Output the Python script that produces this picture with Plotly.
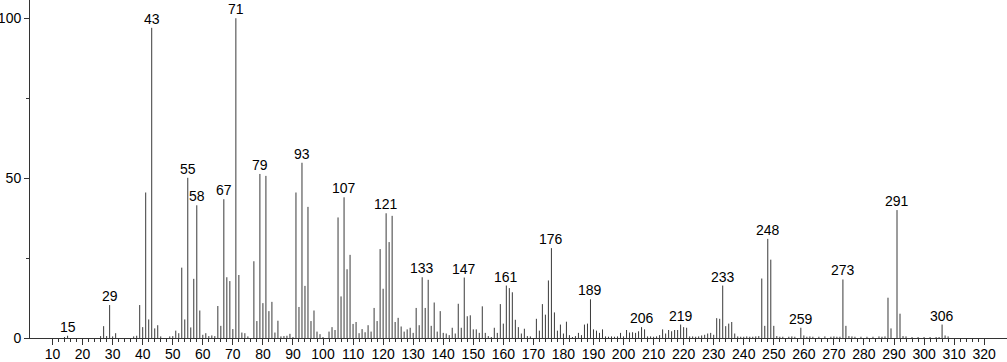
import plotly.graph_objects as go

# m/z values and relative intensities
mz = [14, 15, 26, 27, 28, 29, 30, 31, 37, 38, 39, 40, 41, 42, 43, 44, 45, 46, 49, 50,
      51, 52, 53, 54, 55, 56, 57, 58, 59, 60, 61, 62, 63, 64, 65, 66, 67, 68, 69, 70,
      71, 72, 73, 74, 75, 77, 78, 79, 80, 81, 82, 83, 84, 85, 86, 87, 88, 89, 90, 91,
      92, 93, 94, 95, 96, 97, 98, 99, 100, 102, 103, 104, 105, 106, 107, 108, 109, 110, 111, 112,
      113, 114, 115, 116, 117, 118, 119, 120, 121, 122, 123, 124, 125, 126, 127, 128, 129, 130, 131, 132,
      133, 134, 135, 136, 137, 138, 139, 140, 141, 142, 143, 144, 145, 146, 147, 148, 149, 150, 151, 152,
      153, 154, 155, 156, 157, 158, 159, 160, 161, 162, 163, 164, 165, 166, 167, 168, 169, 171, 172, 173,
      174, 175, 176, 177, 178, 179, 180, 181, 182, 183, 184, 185, 186, 187, 188, 189, 190, 191, 192, 193,
      194, 195, 196, 197, 198, 199, 200, 201, 202, 203, 204, 205, 206, 207, 208, 209, 210, 211, 212, 213,
      214, 215, 216, 217, 218, 219, 220, 221, 222, 223, 224, 225, 226, 227, 228, 229, 230, 231, 232, 233,
      234, 235, 236, 237, 238, 239, 240, 241, 242, 243, 244, 245, 246, 247, 248, 249, 250, 251, 252, 253,
      255, 256, 257, 259, 260, 261, 262, 263, 265, 267, 269, 270, 271, 272, 273, 274, 275, 276, 277, 279,
      281, 283, 285, 286, 287, 288, 289, 291, 292, 293, 294, 296, 298, 300, 302, 304, 305, 306, 307, 308]

intensity = [0.3, 0.7, 0.6, 3.7, 0.6, 10.3, 0.5, 1.5, 0.5, 0.7, 10.3, 3.4, 45.5, 5.8, 97.0, 3.0, 4.0, 0.5, 0.5, 0.6,
             2.3, 1.5, 22.0, 5.8, 50.1, 3.3, 18.5, 41.5, 8.6, 1.0, 1.5, 0.6, 0.8, 0.6, 10.0, 3.8, 43.4, 19.0, 17.8, 2.8,
             100.0, 19.7, 1.7, 1.5, 0.5, 24.0, 5.3, 51.3, 10.9, 50.7, 8.4, 11.3, 1.7, 5.4, 0.5, 0.6, 0.7, 1.3, 0.3, 45.5,
             9.7, 54.8, 16.3, 41.0, 5.3, 8.6, 2.0, 1.2, 0.3, 2.0, 3.4, 2.5, 37.7, 13.0, 44.0, 21.5, 26.0, 4.4, 5.0, 1.5,
             2.8, 1.8, 4.0, 2.0, 9.4, 5.3, 27.8, 15.4, 39.0, 30.0, 38.2, 5.0, 6.3, 3.6, 2.0, 2.7, 3.2, 1.6, 9.4, 4.0,
             19.0, 9.4, 18.2, 3.8, 11.1, 2.0, 8.4, 1.6, 1.4, 0.9, 3.2, 1.4, 10.7, 3.2, 18.9, 6.8, 7.1, 2.7, 2.7, 1.6,
             9.9, 1.6, 0.6, 0.3, 3.2, 1.6, 10.6, 4.5, 16.4, 15.6, 14.3, 5.7, 3.4, 1.4, 2.9, 0.6, 0.5, 6.0, 2.3, 10.6,
             7.3, 18.0, 28.1, 8.0, 2.3, 4.2, 1.4, 5.1, 0.9, 0.3, 0.6, 1.6, 0.9, 4.2, 4.5, 12.1, 2.7, 2.3, 1.6, 2.7,
             0.5, 0.4, 0.5, 0.4, 0.5, 1.6, 0.5, 2.5, 1.7, 1.8, 1.6, 2.1, 3.4, 2.7, 0.5, 0.5, 0.4, 0.5, 0.9, 2.7,
             1.4, 2.5, 2.1, 2.5, 2.5, 4.2, 3.4, 3.2, 0.5, 0.5, 0.4, 0.5, 0.8, 1.0, 1.4, 1.6, 1.0, 6.2, 6.0, 16.4,
             3.7, 4.5, 5.0, 1.4, 0.5, 0.4, 0.4, 0.5, 0.4, 0.4, 0.5, 0.6, 18.6, 3.8, 31.0, 24.5, 3.8, 0.6, 0.4, 0.4,
             0.4, 0.5, 0.4, 3.2, 0.8, 0.4, 0.5, 0.4, 0.4, 0.5, 0.4, 0.5, 0.4, 0.4, 18.3, 3.8, 0.6, 0.5, 0.4, 0.4,
             0.4, 0.4, 0.5, 0.4, 0.5, 12.6, 3.0, 40.0, 7.6, 0.6, 0.5, 0.3, 0.3, 0.3, 0.3, 0.3, 0.3, 4.2, 0.8, 0.5]

labeled = [15, 29, 43, 55, 58, 67, 71, 79, 93, 107, 121, 133, 147, 161, 176,
           189, 206, 219, 233, 248, 259, 273, 291, 306]

x_ticks = list(range(10, 321, 10))
x_minor = [v for v in range(12, 320, 2) if v % 10 != 0]
y_ticks = [0, 50, 100]
y_minor = [25, 75]

FONT = "Liberation Sans, Arial, sans-serif"

xs, ys = [], []
for m, v in zip(mz, intensity):
    xs += [m, m, None]
    ys += [0, v, None]

fig = go.Figure()
fig.add_trace(go.Scatter(x=xs, y=ys, mode="lines",
                         line=dict(color="#3a3a3a", width=1),
                         hoverinfo="skip", showlegend=False))

lookup = dict(zip(mz, intensity))
for m in labeled:
    fig.add_annotation(x=m, y=lookup[m], text=str(m), showarrow=False,
                       xanchor="center", yanchor="bottom", yshift=-1,
                       font=dict(family=FONT, size=14, color="black"))

fig.update_layout(
    width=1007, height=362,
    margin=dict(l=30, r=0, t=0, b=24, autoexpand=False),
    paper_bgcolor="white", plot_bgcolor="white",
    font=dict(family=FONT, size=14, color="black"),
    xaxis=dict(range=[2.5, 327.6], tickmode="array", tickvals=x_ticks,
               automargin=False, ticklabelstandoff=-3,
               ticks="outside", ticklen=6, tickwidth=1, tickcolor="#333",
               showline=True, linecolor="#333", linewidth=1,
               showgrid=False, zeroline=False,
               tickfont=dict(family=FONT, size=14, color="black"),
               minor=dict(tickmode="array", tickvals=x_minor, ticks="outside",
                          ticklen=3, tickwidth=1, tickcolor="#333", showgrid=False)),
    yaxis=dict(range=[0, 105.7], tickmode="array", tickvals=y_ticks,
               automargin=False,
               ticks="outside", ticklen=5, tickwidth=1, tickcolor="#333",
               showline=True, linecolor="#333", linewidth=1,
               showgrid=False, zeroline=False,
               tickfont=dict(family=FONT, size=14, color="black"),
               minor=dict(tickmode="array", tickvals=y_minor, ticks="outside",
                          ticklen=3, tickwidth=1, tickcolor="#333", showgrid=False)),
)

fig.write_html("out.html", config={"displayModeBar": False},
               post_script="document.body.style.margin='0';document.body.style.overflow='hidden';")
